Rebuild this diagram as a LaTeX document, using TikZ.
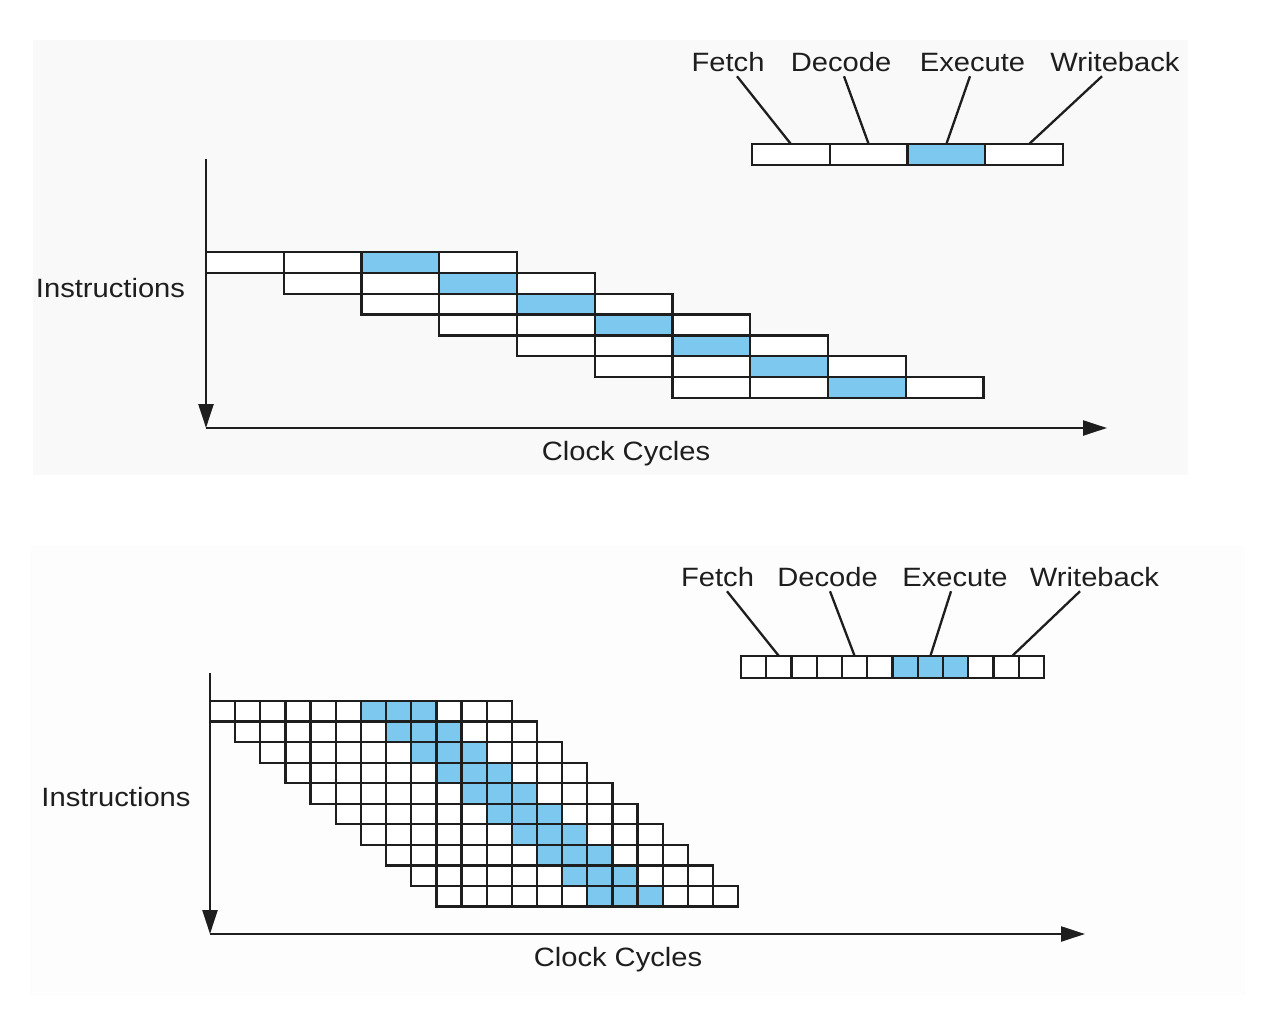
\documentclass[tikz,border=0pt]{standalone}
\usepackage{fontspec}
\setmainfont{Liberation Sans}[FakeStretch=1.1]
\usetikzlibrary{arrows.meta,positioning}
\definecolor{exeblue}{RGB}{125,200,238}
\definecolor{inkgray}{RGB}{30,30,30}

\begin{document}
\begin{tikzpicture}[x=1pt,y=-1pt,line width=2.3pt]
\tikzstyle{cell}=[rectangle,inner sep=0pt,outer sep=0pt,anchor=north west]
\tikzstyle{bigcell}=[cell,minimum width=77.75pt,minimum height=20.85pt]
\tikzstyle{smallcell}=[cell,minimum width=25.15pt,minimum height=20.55pt]
\tikzstyle{legcell}=[cell,draw=inkgray,minimum width=25.25pt,minimum height=22pt]
\tikzstyle{lbl}=[font=\fontsize{26.5}{30}\selectfont,text=inkgray,anchor=base]
\tikzstyle{axis}=[draw=inkgray,-{Triangle[length=24pt,width=15pt]}]
\tikzstyle{leader}=[draw=inkgray]
\tikzstyle{border}=[draw=inkgray]

\useasboundingbox (0,0) rectangle (1273,1033);
\fill[black!2.2] (33,40) rectangle (1188,475);
\fill[black!0.8] (30,545) rectangle (1245,995);

% four stage pipeline
\node[lbl] at (728,71.5) (f1) {Fetch};
\node[lbl] at (841,71.5) (d1) {Decode};
\node[lbl] at (972.5,71.5) (e1) {Execute};
\node[lbl] at (1115,71.5) (w1) {Writeback};
\foreach \j/\c in {1/white,2/white,3/exeblue,4/white}
  \node[bigcell,draw=inkgray,fill=\c] at ({752+77.75*(\j-1)},144) (tl\j) {};
\path[leader] ([xshift=9pt]f1.south) edge (tl1.north);
\path[leader] ([xshift=3pt]d1.south) edge (tl2.north);
\path[leader] ([xshift=-2.5pt]e1.south) edge (tl3.north);
\path[leader] ([xshift=-13pt]w1.south) edge ([xshift=5pt]tl4.north);

\foreach \i in {0,...,6}
  \foreach \j/\c in {0/white,1/white,2/exeblue,3/white}
    \node[bigcell,fill=\c] at ({206+77.75*(\i+\j)},{252+20.85*\i}) (a-\i-\j) {};
\foreach \i in {0,...,6}
  \foreach \j in {0,...,3}
    \draw[border] (a-\i-\j.north west) rectangle (a-\i-\j.south east);

\coordinate (ytop1) at (206,159);
\coordinate (o1) at (206,428);
\coordinate (xend1) at (1107,428);
\draw[axis] (ytop1) -- (o1);
\draw[axis] (o1) -- (xend1);
\node[lbl] at (110.5,297) (ins1) {Instructions};
\node[lbl] at (626,460) (clk1) {Clock Cycles};

% twelve stage pipeline
\node[lbl] at (717.5,586.5) (f2) {Fetch};
\node[lbl] at (827.5,586.5) (d2) {Decode};
\node[lbl] at (955,586.5) (e2) {Execute};
\node[lbl] at (1094.5,586.5) (w2) {Writeback};
\foreach \j/\c in {1/white,2/white,3/white,4/white,5/white,6/white,7/exeblue,8/exeblue,9/exeblue,10/white,11/white,12/white}
  \node[legcell,fill=\c] at ({741+25.25*(\j-1)},656) (bl\j) {};
\path[leader] ([xshift=9.5pt]f2.south) edge (bl2.north);
\path[leader] ([xshift=2.5pt]d2.south) edge (bl5.north);
\path[leader] ([xshift=-4pt]e2.south) edge (bl8.north);
\path[leader] ([xshift=-14.5pt]w2.south) edge ([xshift=6pt]bl11.north);

\foreach \i in {0,...,9}
  \foreach \j/\c in {0/white,1/white,2/white,3/white,4/white,5/white,6/exeblue,7/exeblue,8/exeblue,9/white,10/white,11/white}
    \node[smallcell,fill=\c] at ({210+25.15*(\i+\j)},{701+20.55*\i}) (b-\i-\j) {};
\foreach \i in {0,...,9}
  \foreach \j in {0,...,11}
    \draw[border] (b-\i-\j.north west) rectangle (b-\i-\j.south east);

\coordinate (ytop2) at (210,673);
\coordinate (o2) at (210,934);
\coordinate (xend2) at (1085,934);
\draw[axis] (ytop2) -- (o2);
\draw[axis] (o2) -- (xend2);
\node[lbl] at (116,806) (ins2) {Instructions};
\node[lbl] at (618,966) (clk2) {Clock Cycles};

\end{tikzpicture}
\end{document}
